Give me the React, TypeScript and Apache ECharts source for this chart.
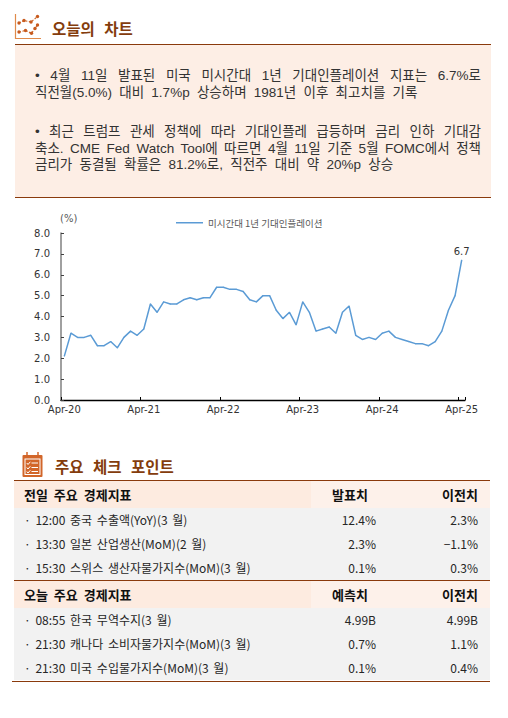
import React, { useEffect, useRef } from "react";
import * as echarts from "echarts";

// ---------- chart data ----------
const seriesName = "미시간대 1년 기대인플레이션";
const months = [
  "Apr-20", "May-20", "Jun-20", "Jul-20", "Aug-20", "Sep-20", "Oct-20", "Nov-20", "Dec-20",
  "Jan-21", "Feb-21", "Mar-21", "Apr-21", "May-21", "Jun-21", "Jul-21", "Aug-21", "Sep-21", "Oct-21", "Nov-21", "Dec-21",
  "Jan-22", "Feb-22", "Mar-22", "Apr-22", "May-22", "Jun-22", "Jul-22", "Aug-22", "Sep-22", "Oct-22", "Nov-22", "Dec-22",
  "Jan-23", "Feb-23", "Mar-23", "Apr-23", "May-23", "Jun-23", "Jul-23", "Aug-23", "Sep-23", "Oct-23", "Nov-23", "Dec-23",
  "Jan-24", "Feb-24", "Mar-24", "Apr-24", "May-24", "Jun-24", "Jul-24", "Aug-24", "Sep-24", "Oct-24", "Nov-24", "Dec-24",
  "Jan-25", "Feb-25", "Mar-25", "Apr-25",
];
const inflationExpectations = [
  2.1, 3.2, 3.0, 3.0, 3.1, 2.6, 2.6, 2.8, 2.5,
  3.0, 3.3, 3.1, 3.4, 4.6, 4.2, 4.7, 4.6, 4.6, 4.8, 4.9, 4.8,
  4.9, 4.9, 5.4, 5.4, 5.3, 5.3, 5.2, 4.8, 4.7, 5.0, 5.0, 4.3,
  3.9, 4.2, 3.6, 4.7, 4.2, 3.3, 3.4, 3.5, 3.2, 4.2, 4.5, 3.1,
  2.9, 3.0, 2.9, 3.2, 3.3, 3.0, 2.9, 2.8, 2.7, 2.7, 2.6, 2.8,
  3.3, 4.3, 5.0, 6.7,
];
const yMin = 0;
const yMax = 8;
const yStep = 1;

// ---------- page texts ----------
const titleChart = "오늘의 차트";
const titleCheck = "주요 체크 포인트";
const para1 = [
  "• 4월 11일 발표된 미국 미시간대 1년 기대인플레이션 지표는 6.7%로",
  "직전월(5.0%) 대비 1.7%p 상승하며 1981년 이후 최고치를 기록",
];
const para2 = [
  "• 최근 트럼프 관세 정책에 따라 기대인플레 급등하며 금리 인하 기대감",
  "축소. CME Fed Watch Tool에 따르면 4월 11일 기준 5월 FOMC에서 정책",
  "금리가 동결될 확률은 81.2%로, 직전주 대비 약 20%p 상승",
];
const header1 = ["전일 주요 경제지표", "발표치", "이전치"];
const rows1 = [
  ["· 12:00 중국 수출액(YoY)(3 월)", "12.4%", "2.3%"],
  ["· 13:30 일본 산업생산(MoM)(2 월)", "2.3%", "−1.1%"],
  ["· 15:30 스위스 생산자물가지수(MoM)(3 월)", "0.1%", "0.3%"],
];
const header2 = ["오늘 주요 경제지표", "예측치", "이전치"];
const rows2 = [
  ["· 08:55 한국 무역수지(3 월)", "4.99B", "4.99B"],
  ["· 21:30 캐나다 소비자물가지수(MoM)(3 월)", "0.7%", "1.1%"],
  ["· 21:30 미국 수입물가지수(MoM)(3 월)", "0.1%", "0.4%"],
];

const BROWN = "#8a3a0c";
const TITLE = "#843c0c";
const PEACH = "#fdeee5";
const KFONT = '"Noto Sans CJK KR", "Noto Sans", sans-serif';
const PFONT = '"Liberation Sans", "Noto Sans CJK KR", sans-serif';

function Chart() {
  const ref = useRef<HTMLDivElement>(null);
  useEffect(() => {
    if (!ref.current) return;
    const chart = echarts.init(ref.current, undefined, { renderer: "svg" });
    const last = inflationExpectations.length - 1;
    chart.setOption({
      animation: false,
      backgroundColor: "#ffffff",
      grid: { left: 61, right: 43, top: 33, bottom: 25, containLabel: false },
      legend: {
        show: true,
        left: 171,
        top: 13,
        icon: "rect",
        itemWidth: 27,
        itemHeight: 1.5,
        data: [seriesName],
        textStyle: { fontSize: 9.5, color: "#595959", fontFamily: KFONT },
      },
      graphic: [
        {
          type: "text",
          left: 60,
          top: 13,
          style: { text: "(%)", fontSize: 10, fill: "#595959", fontFamily: "DejaVu Sans" },
        },
      ],
      xAxis: {
        type: "category",
        data: months,
        boundaryGap: true,
        axisLine: { show: true, lineStyle: { color: "#000000", width: 1.3 } },
        axisTick: { show: true, inside: true, length: 3, interval: 11, alignWithLabel: false, lineStyle: { color: "#000000" } },
        axisLabel: { interval: 11, fontSize: 10, fontFamily: "DejaVu Sans", color: "#333333", margin: 4 },
        splitLine: { show: false },
      },
      yAxis: {
        type: "value",
        min: yMin,
        max: yMax,
        interval: yStep,
        axisLine: { show: true, lineStyle: { color: "#808080", width: 1.5 } },
        axisTick: { show: true, inside: true, length: 3, lineStyle: { color: "#404040" } },
        axisLabel: {
          formatter: (v: number) => v.toFixed(1),
          fontSize: 10,
          fontFamily: "DejaVu Sans",
          color: "#333333",
          margin: 11,
        },
        splitLine: { show: false },
      },
      series: [
        {
          name: seriesName,
          type: "line",
          data: inflationExpectations,
          symbol: "circle",
          symbolSize: 1,
          showSymbol: true,
          itemStyle: { color: "#5b9bd5" },
          lineStyle: { color: "#5b9bd5", width: 1.5 },
          label: {
            show: true,
            position: "top",
            distance: 3,
            fontSize: 10,
            fontFamily: "DejaVu Sans",
            color: "#333333",
            formatter: (p: any) => (p.dataIndex === last ? Number(p.value).toFixed(1) : ""),
          },
        },
      ],
    });
    return () => chart.dispose();
  }, []);
  return <div ref={ref} style={{ position: "absolute", left: 0, top: 200, width: 508, height: 225 }} />;
}

function ChartIcon() {
  const up = [[19, 23], [24, 20.5], [31, 22], [37.5, 16.5]];
  const lo = [[19, 32], [25.5, 30.5], [31.5, 33.3], [35, 28.5], [37.5, 25]];
  const pts = (a: number[][]) => a.map((p) => p.join(",")).join(" ");
  return (
    <svg style={{ position: "absolute", left: 0, top: 0 }} width={50} height={45}>
      <polyline points="15.5,14 15.5,38.5 41,38.5" fill="none" stroke="#e08a4a" strokeWidth={1.2} />
      <polyline points={pts(up)} fill="none" stroke="#d06a2a" strokeWidth={1.2} strokeDasharray="2,1.5" />
      <polyline points={pts(lo)} fill="none" stroke="#d06a2a" strokeWidth={1.2} strokeDasharray="2,1.5" />
      {up.concat(lo).map((p, i) => (
        <circle key={i} cx={p[0]} cy={p[1]} r={1.7} fill="#c75a1e" />
      ))}
    </svg>
  );
}

function CalendarIcon() {
  return (
    <svg style={{ position: "absolute", left: 0, top: 440 }} width={50} height={45}>
      <rect x={22.5} y={15} width={20} height={22} rx={1} fill="#d2662a" />
      <line x1={27} y1={12} x2={27} y2={17} stroke="#d2662a" strokeWidth={1.5} />
      <line x1={38} y1={12} x2={38} y2={17} stroke="#d2662a" strokeWidth={1.5} />
      <rect x={25} y={19} width={15} height={15.5} fill="none" stroke="#ffffff" strokeWidth={1} />
      <polyline points="26.8,23 28,24.5 30.3,21.8" fill="none" stroke="#fff" strokeWidth={1} />
      <polyline points="26.8,27.5 28,29 30.3,26.3" fill="none" stroke="#fff" strokeWidth={1} />
      <polyline points="26.8,31.5 28,33 30.3,30.3" fill="none" stroke="#fff" strokeWidth={1} />
      <line x1={31.5} y1={23} x2={38} y2={23} stroke="#fff" strokeWidth={1} />
      <line x1={31.5} y1={27.5} x2={38} y2={27.5} stroke="#fff" strokeWidth={1} />
      <line x1={31.5} y1={31.5} x2={38} y2={31.5} stroke="#fff" strokeWidth={1} />
    </svg>
  );
}

function ParaLine({ text, center, full }: { text: string; center: number; full: boolean }) {
  return (
    <div
      style={{
        position: "absolute",
        left: 35,
        width: 446,
        top: center - 8,
        height: 16,
        lineHeight: "16px",
        fontSize: 13.5,
        fontFamily: PFONT,
        color: "#333333",
        whiteSpace: "nowrap",
        textAlign: full ? "justify" : "left",
        textAlignLast: full ? "justify" : "left",
        wordSpacing: full ? 0 : 3.5,
      } as any}
    >
      {text}
    </div>
  );
}

function TableBlock({ top, header, rows }: { top: number; header: string[]; rows: string[][] }) {
  const rowH = 24;
  return (
    <>
      <div style={{ position: "absolute", left: 14, top, width: 297, height: 27, background: "#fdebe0" }} />
      <div style={{ position: "absolute", left: 311, top, width: 179, height: 27, background: "#fdf1ea" }} />
      <div style={{ position: "absolute", left: 14, top: top + 27, width: 476, height: rowH * 3, background: "#f2f2f2" }} />
      <div style={{ position: "absolute", left: 24, top: top + 4, height: 20, lineHeight: "20px", fontSize: 13, fontWeight: 700, fontFamily: KFONT, color: "#111", wordSpacing: 3 }}>{header[0]}</div>
      <div style={{ position: "absolute", right: 508 - 368, top: top + 4, height: 20, lineHeight: "20px", fontSize: 13, fontWeight: 700, fontFamily: KFONT, color: "#111" }}>{header[1]}</div>
      <div style={{ position: "absolute", right: 508 - 478, top: top + 4, height: 20, lineHeight: "20px", fontSize: 13, fontWeight: 700, fontFamily: KFONT, color: "#111" }}>{header[2]}</div>
      {rows.map((r, i) => {
        const t = top + 27 + i * rowH + 2;
        const st = { position: "absolute" as const, top: t, height: 20, lineHeight: "20px", fontSize: 12, fontFamily: KFONT, color: "#262626", whiteSpace: "nowrap" as const };
        return (
          <React.Fragment key={i}>
            <div style={{ ...st, left: 24, wordSpacing: 2 }}>{r[0]}</div>
            <div style={{ ...st, right: 508 - 376 }}>{r[1]}</div>
            <div style={{ ...st, right: 508 - 478 }}>{r[2]}</div>
          </React.Fragment>
        );
      })}
    </>
  );
}

export default function App() {
  return (
    <div style={{ position: "absolute", left: 0, top: 0, width: 508, height: 718, background: "#ffffff", overflow: "hidden" }}>
      <ChartIcon />
      <div style={{ position: "absolute", left: 52, top: 17, height: 22, lineHeight: "22px", fontSize: 15.5, fontWeight: 700, fontFamily: KFONT, color: TITLE, wordSpacing: 6 }}>
        {titleChart}
      </div>
      <div style={{ position: "absolute", left: 15, top: 43.5, width: 476, height: 152, background: PEACH, borderTop: `1.3px solid ${BROWN}`, borderBottom: `1.3px solid ${BROWN}` }} />
      <ParaLine text={para1[0]} center={76} full={true} />
      <ParaLine text={para1[1]} center={92.5} full={false} />
      <ParaLine text={para2[0]} center={131.5} full={true} />
      <ParaLine text={para2[1]} center={148.5} full={true} />
      <ParaLine text={para2[2]} center={165} full={false} />

      <Chart />

      <CalendarIcon />
      <div style={{ position: "absolute", left: 55, top: 455, height: 22, lineHeight: "22px", fontSize: 15.5, fontWeight: 700, fontFamily: KFONT, color: TITLE, wordSpacing: 6 }}>
        {titleCheck}
      </div>
      <div style={{ position: "absolute", left: 14, top: 479.5, width: 476, height: 1.5, background: BROWN }} />
      <TableBlock top={481} header={header1} rows={rows1} />
      <div style={{ position: "absolute", left: 14, top: 579.5, width: 476, height: 1.5, background: BROWN }} />
      <TableBlock top={581} header={header2} rows={rows2} />
      <div style={{ position: "absolute", left: 12, top: 680.5, width: 478, height: 1.5, background: BROWN }} />
    </div>
  );
}
